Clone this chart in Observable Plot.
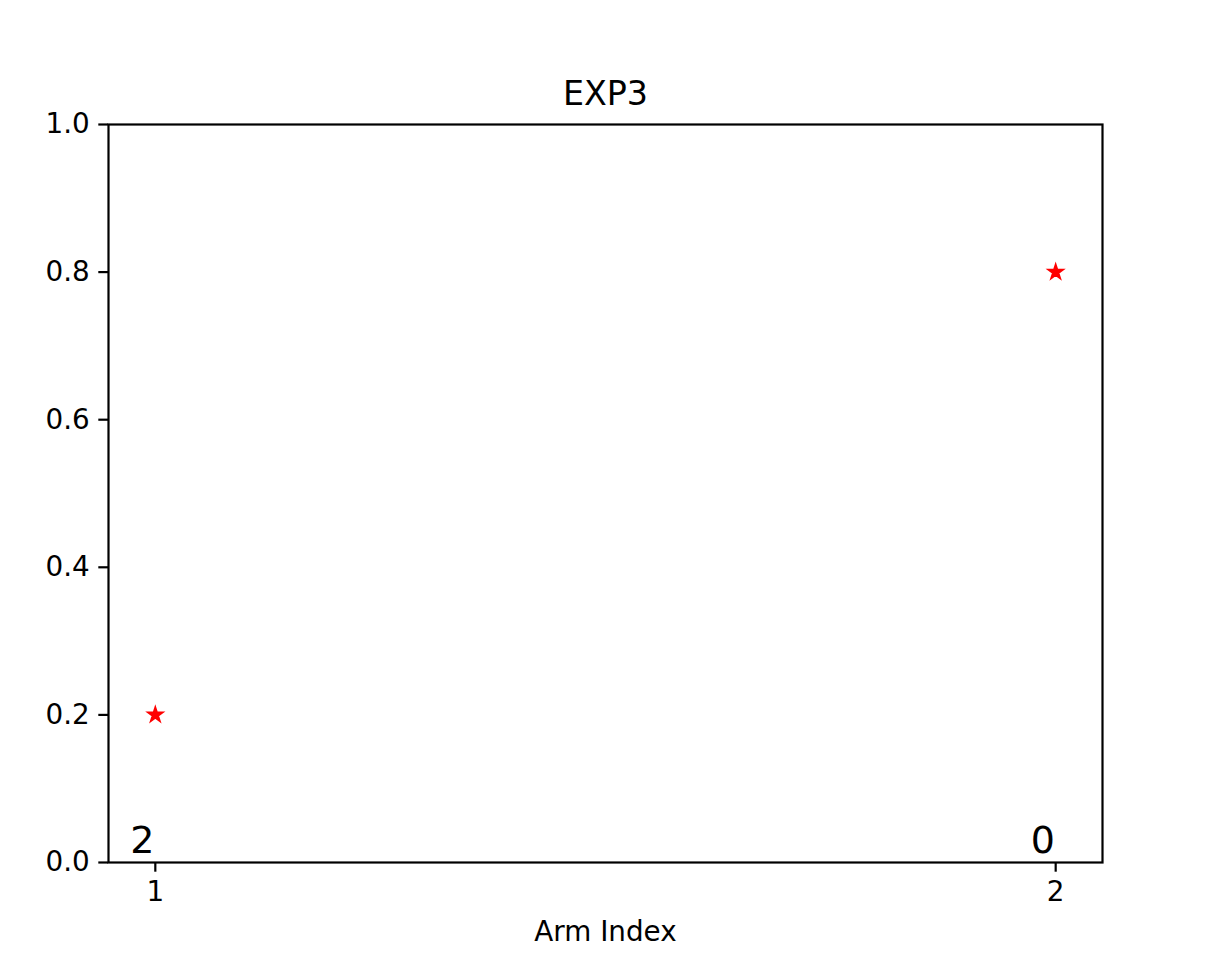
<!DOCTYPE html>
<html>
<head>
<meta charset="utf-8">
<script src="https://cdn.jsdelivr.net/npm/d3@7"></script>
<script src="https://cdn.jsdelivr.net/npm/@observablehq/plot@0.6"></script>
<style>
  html, body { margin: 0; padding: 0; background: #fff; }
  #chart svg { display: block; }
</style>
</head>
<body>
<div id="chart"></div>
<script>
const title = "EXP3";
const xLabel = "Arm Index";
const arms = [1, 2];
const values = [0.2, 0.8];
const counts = ["2", "0"];
const xTicks = [1, 2];
const yTicks = [0, 0.2, 0.4, 0.6, 0.8, 1.0];

const data = arms.map((a, i) => ({arm: a, value: values[i], count: counts[i]}));

const font = "DejaVu Sans, sans-serif";

const chart = Plot.plot({
  width: 1209,
  height: 961,
  marginLeft: 108,
  marginRight: 107,
  marginTop: 124,
  marginBottom: 99,
  style: {fontFamily: font, fontSize: "27.8px", color: "#000", background: "#fff"},
  x: {domain: [0.948, 2.052]},
  y: {domain: [0, 1]},
  marks: [
    Plot.axisY({ticks: yTicks, tickFormat: d3.format(".1f"), tickSize: 9.7, tickPadding: 9, strokeWidth: 2.2, label: null, fontSize: 27.8}),
    Plot.axisX({ticks: xTicks, tickFormat: d => String(d), tickSize: 9.7, tickPadding: 9, strokeWidth: 2.2, label: null, fontSize: 27.8}),
    Plot.frame({stroke: "#000", strokeWidth: 2.2}),
    Plot.dot(data, {x: "arm", y: "value", symbol: "star", r: 4.6, fill: "red", stroke: "red", strokeWidth: 1.8}),
    Plot.text(data, {x: "arm", y: 0, text: "count", dx: -25, dy: -10, textAnchor: "start", lineAnchor: "bottom", fontSize: 38, fill: "#000"}),
    Plot.text([title], {frameAnchor: "top", dy: -20, lineAnchor: "bottom", fontSize: 33.3, fill: "#000"}),
    Plot.text([xLabel], {frameAnchor: "bottom", dy: 70, lineAnchor: "middle", fontSize: 27.8, fill: "#000"})
  ]
});
document.getElementById("chart").appendChild(chart);
</script>
</body>
</html>
